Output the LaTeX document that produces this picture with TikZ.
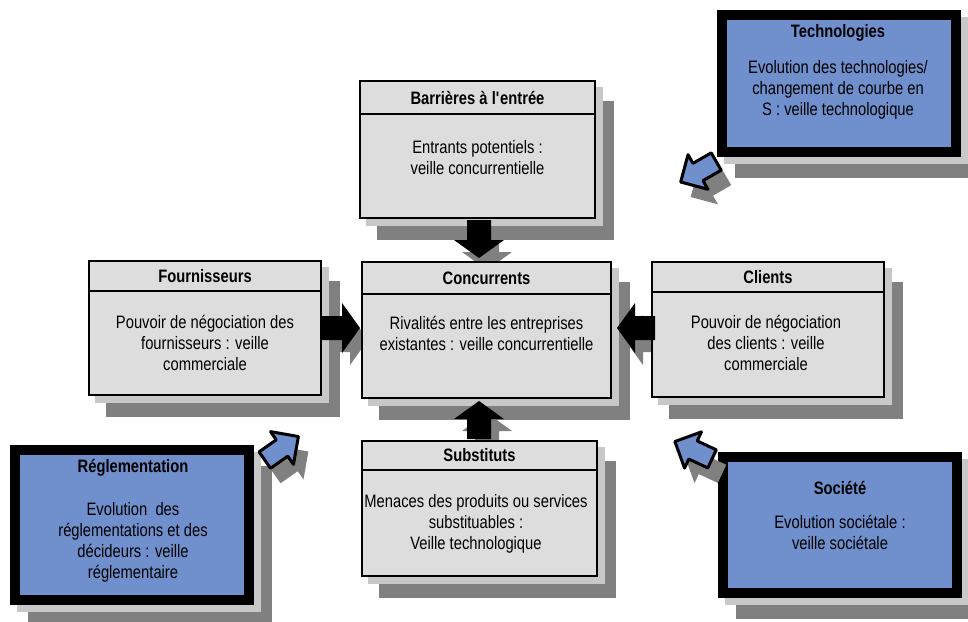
\documentclass[tikz,border=0pt]{standalone}
\usepackage{fontspec}
\setmainfont{Liberation Sans}[FakeStretch=0.82]
\usetikzlibrary{calc}
\definecolor{boxgray}{RGB}{221,221,221}
\definecolor{shlight}{RGB}{200,200,200}
\definecolor{shdark}{RGB}{128,128,128}
\definecolor{myblue}{RGB}{111,143,205}
\newcommand\twoshadow[4]{%
  \fill[shdark] (#1+18,#2+21) rectangle (#3+18,#4+21);
  \fill[shlight] (#1+7,#2+7) rectangle (#3+7,#4+7);}
\newcommand\blkarrow[3]{%
  \fill[black,shift={(#1,#2)},rotate=#3] (-20,-12) -- (0,-12) -- (0,-25) -- (18,0) -- (0,25) -- (0,12) -- (-20,12) -- cycle;}
\newcommand\blkarrowshadow[3]{%
  \fill[shdark,shift={(#1+8,#2+12)},rotate=#3] (-20,-12) -- (0,-12) -- (0,-25) -- (18,0) -- (0,25) -- (0,12) -- (-20,12) -- cycle;}
\newcommand\bluarrow[3]{%
  \fill[shdark,shift={(#1+10,#2+15)},rotate=#3] (-21,-10) -- (0,-10) -- (0,-20) -- (20,0) -- (0,20) -- (0,10) -- (-21,10) -- cycle;
  \filldraw[fill=myblue,draw=black,line width=3pt,line join=round,shift={(#1,#2)},rotate=#3] (-21,-10) -- (0,-10) -- (0,-20) -- (20,0) -- (0,20) -- (0,10) -- (-21,10) -- cycle;}
\begin{document}
\begin{tikzpicture}[x=1pt,y=-1pt,
  graybox/.style={draw=black,line width=2pt,fill=boxgray,rectangle,inner sep=0pt,outer sep=0pt,anchor=north west},
  bluebox/.style={draw=black,line width=10pt,fill=myblue,rectangle,inner sep=0pt,outer sep=0pt,anchor=north west},
  hdr/.style={draw=black,line width=2pt},
  ttl/.style={font=\fontsize{18}{21}\selectfont\bfseries,inner sep=0pt},
  txt/.style={font=\fontsize{18}{21}\selectfont,align=center,inner sep=0pt}]
\useasboundingbox[fill=white] (0,0) rectangle (968,621);

% shadows
\twoshadow{359}{80}{596}{219}
\twoshadow{361}{261}{612}{399}
\twoshadow{88}{260}{322}{396}
\twoshadow{651}{261}{885}{398}
\twoshadow{361}{440}{598}{577}
\twoshadow{717}{10}{961}{157}
\twoshadow{10}{445}{254}{605}
\twoshadow{718}{452}{962}{598}

% arrow shadows
\blkarrowshadow{479}{240}{-90}
\blkarrowshadow{479}{419}{90}
\blkarrowshadow{342}{328}{0}
\blkarrowshadow{635}{328}{180}

% gray boxes
\node[graybox,minimum width=235pt,minimum height=137pt] (barr) at (360,81) {};
\node[graybox,minimum width=249pt,minimum height=136pt] (conc) at (362,262) {};
\node[graybox,minimum width=232pt,minimum height=134pt] (four) at (89,261) {};
\node[graybox,minimum width=232pt,minimum height=135pt] (clie) at (652,262) {};
\node[graybox,minimum width=235pt,minimum height=135pt] (subs) at (362,441) {};

\draw[hdr] ($(barr.north west)+(0,33)$) -- ($(barr.north east)+(0,33)$);
\draw[hdr] ($(conc.north west)+(0,32)$) -- ($(conc.north east)+(0,32)$);
\draw[hdr] ($(four.north west)+(0,30)$) -- ($(four.north east)+(0,30)$);
\draw[hdr] ($(clie.north west)+(0,30)$) -- ($(clie.north east)+(0,30)$);
\draw[hdr] ($(subs.north west)+(0,29)$) -- ($(subs.north east)+(0,29)$);

% blue boxes
\node[bluebox,minimum width=234pt,minimum height=137pt] (tech) at (722,15) {};
\node[bluebox,minimum width=234pt,minimum height=150pt] (regl) at (15,450) {};
\node[bluebox,minimum width=234pt,minimum height=136pt] (soci) at (723,457) {};

% texts
\node[ttl] (barrT) at (477.5,97.5) {Barrières à l\textquotesingle entrée};
\node[txt] (barrB) at (477.5,158) {Entrants potentiels :\\veille concurrentielle};
\node[ttl] (concT) at (486.5,278) {Concurrents};
\node[txt] (concB) at (486.5,333.5) {Rivalités entre les entreprises\\existantes : veille concurrentielle};
\node[ttl] (fourT) at (205,276) {Fournisseurs};
\node[txt] (fourB) at (205,342.5) {Pouvoir de négociation des\\fournisseurs : veille\\commerciale};
\node[ttl] (clieT) at (768,277) {Clients};
\node[txt] (clieB) at (766,342.5) {Pouvoir de négociation\\des clients : veille\\commerciale};
\node[ttl] (subsT) at (479.5,455.5) {Substituts};
\node[txt] (subsB) at (476,524) {Menaces des produits ou services\\substituables :\\Veille technologique};
\node[ttl] (techT) at (838,33) {Technologies};
\node[txt] (techB) at (838,89.5) {Evolution des technologies/\\changement de courbe en\\S : veille technologique};
\node[ttl] (reglT) at (133,468) {Réglementation};
\node[txt] (reglB) at (133,542) {Evolution\ \ des\\réglementations et des\\décideurs : veille\\réglementaire};
\node[ttl] (sociT) at (840,488) {Société};
\node[txt] (sociB) at (840,532.5) {Evolution sociétale :\\veille sociétale};

% black block arrows
\blkarrow{479}{240}{-90}
\blkarrow{479}{419}{90}
\blkarrow{342}{328}{0}
\blkarrow{635}{328}{180}

% blue arrows
\bluarrow{698}{172}{210}
\bluarrow{282}{448}{35}
\bluarrow{693}{450}{155}
\end{tikzpicture}
\end{document}
